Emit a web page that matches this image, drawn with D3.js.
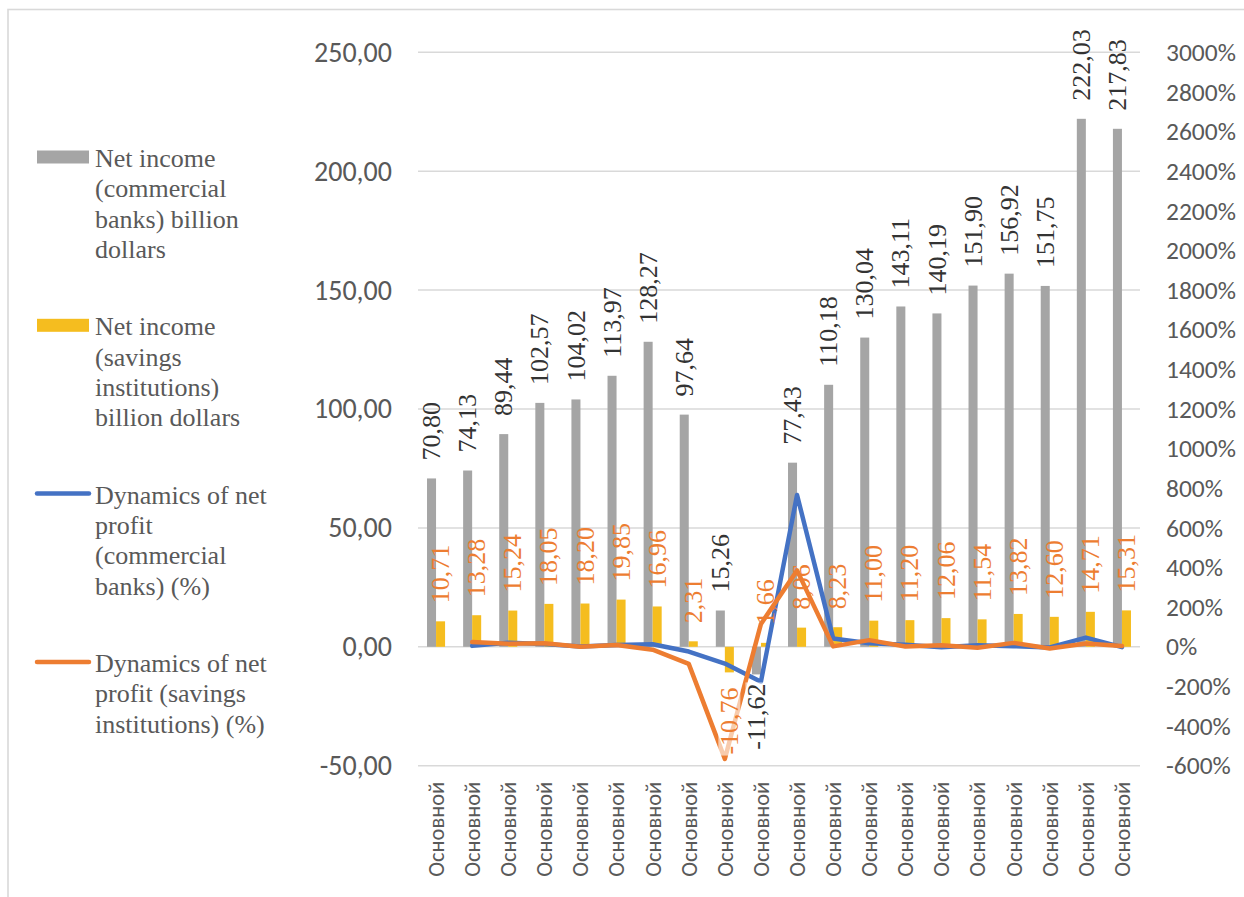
<!DOCTYPE html>
<html>
<head>
<meta charset="utf-8">
<script src="https://cdn.jsdelivr.net/npm/d3@7/dist/d3.min.js"></script>
<style>
  html, body { margin: 0; padding: 0; background: #fff; }
  svg { display: block; }
</style>
</head>
<body>
<svg id="chart" width="1244" height="897"></svg>
<script>
// ---------- DATA ----------
const categories = ["Основной","Основной","Основной","Основной","Основной","Основной","Основной","Основной","Основной","Основной",
                    "Основной","Основной","Основной","Основной","Основной","Основной","Основной","Основной","Основной","Основной"];
const commercialIncome = [70.80, 74.13, 89.44, 102.57, 104.02, 113.97, 128.27, 97.64, 15.26, -11.62,
                          77.43, 110.18, 130.04, 143.11, 140.19, 151.90, 156.92, 151.75, 222.03, 217.83];
const savingsIncome = [10.71, 13.28, 15.24, 18.05, 18.20, 19.85, 16.96, 2.31, -10.76, 1.66,
                       8.06, 8.23, 11.00, 11.20, 12.06, 11.54, 13.82, 12.60, 14.71, 15.31];
// dynamics of net profit, %
const commercialDynamics = [null, 4.7, 20.7, 14.7, 1.4, 9.6, 12.5, -23.9, -84.4, -176.1,
                            766.3, 42.3, 18.0, 10.1, -2.0, 8.4, 3.3, -3.3, 46.3, -1.9];
const savingsDynamics = [null, 24.0, 14.8, 18.4, 0.8, 9.1, -14.6, -86.4, -565.8, 115.4,
                         385.5, 2.1, 33.7, 1.8, 7.7, -4.3, 19.8, -8.8, 16.7, 4.1];
const leftTicks = [-50, 0, 50, 100, 150, 200, 250];
const rightTicks = [-600, -400, -200, 0, 200, 400, 600, 800, 1000, 1200, 1400, 1600, 1800, 2000, 2200, 2400, 2600, 2800, 3000];
const legendItems = [
  { type: "bar", color: "#a5a5a5", lines: ["Net income", "(commercial", "banks) billion", "dollars"] },
  { type: "bar", color: "#f5bd1f", lines: ["Net income", "(savings", "institutions)", "billion dollars"] },
  { type: "line", color: "#4472c4", lines: ["Dynamics of net", "profit", "(commercial", "banks) (%)"] },
  { type: "line", color: "#ed7d31", lines: ["Dynamics of net", "profit (savings", "institutions) (%)"] }
];

// ---------- STYLE ----------
const C = { gray: "#a5a5a5", yellow: "#f5bd1f", blue: "#4472c4", orange: "#ed7d31",
            grid: "#d9d9d9", axisText: "#595959", labelDark: "#333333", legendText: "#595959" };
const SERIF = "'Liberation Serif', 'Times New Roman', serif";
const SANS = "Carlito, 'Liberation Sans', Arial, sans-serif";

const svg = d3.select("#chart");

// outer frame
svg.append("rect").attr("x", 8).attr("y", 9.5).attr("width", 1300).attr("height", 1000)
  .attr("fill", "none").attr("stroke", "#d9d9d9").attr("stroke-width", 1.6);

const plot = { left: 418, right: 1140, top: 52.3, bottom: 765.7 };

const x = d3.scaleBand().domain(d3.range(categories.length)).range([plot.left, plot.right]).padding(0);
const yL = d3.scaleLinear().domain([-50, 250]).range([plot.bottom, plot.top]);
const yR = d3.scaleLinear().domain([-600, 3000]).range([plot.bottom, plot.top]);
const bw = x.bandwidth() * 0.25;
const cx = i => x(i) + x.bandwidth() / 2;
const minus = s => s.replace("\u2212", "-");

// gridlines
svg.append("g").selectAll("line").data(leftTicks).join("line")
  .attr("x1", plot.left).attr("x2", plot.right)
  .attr("y1", d => yL(d)).attr("y2", d => yL(d))
  .attr("stroke", C.grid).attr("stroke-width", 1.5);

// left axis
const fmtL = d => minus(d3.format(".2f")(d)).replace(".", ",");
const gL = svg.append("g").attr("transform", `translate(${plot.left - 26},0)`)
  .call(d3.axisLeft(yL).tickValues(leftTicks).tickFormat(fmtL).tickSize(0).tickPadding(0));
gL.select(".domain").remove();
gL.selectAll("text").attr("font-family", SANS).attr("font-size", 28).attr("fill", C.axisText);

// right axis
const gR = svg.append("g").attr("transform", `translate(${plot.right + 26},0)`)
  .call(d3.axisRight(yR).tickValues(rightTicks).tickFormat(d => minus(d3.format("d")(d)) + "%").tickSize(0).tickPadding(0));
gR.select(".domain").remove();
gR.selectAll("text").attr("font-family", SANS).attr("font-size", 25.5).attr("fill", C.axisText);

// x axis labels
const gX = svg.append("g").attr("transform", `translate(0,${plot.bottom + 16})`)
  .call(d3.axisBottom(x).tickFormat(i => categories[i]).tickSize(0).tickPadding(0));
gX.select(".domain").remove();
gX.selectAll("text")
  .attr("font-family", SANS).attr("font-size", 22.5).attr("fill", C.axisText)
  .attr("transform", "rotate(-90)")
  .attr("text-anchor", "end").attr("dy", "0.35em").attr("x", 0).attr("y", 0);

// bars
svg.append("g").selectAll("rect").data(commercialIncome).join("rect")
  .attr("x", (d, i) => cx(i) - bw).attr("width", bw)
  .attr("y", d => yL(Math.max(0, d))).attr("height", d => Math.abs(yL(d) - yL(0)))
  .attr("fill", C.gray);
svg.append("g").selectAll("rect").data(savingsIncome).join("rect")
  .attr("x", (d, i) => cx(i)).attr("width", bw)
  .attr("y", d => yL(Math.max(0, d))).attr("height", d => Math.abs(yL(d) - yL(0)))
  .attr("fill", C.yellow);

// lines
const lineGen = d3.line().defined(d => d.v !== null).x(d => cx(d.i)).y(d => yR(d.v));
[[commercialDynamics, C.blue], [savingsDynamics, C.orange]].forEach(([arr, col]) => {
  svg.append("path").datum(arr.map((v, i) => ({ v, i })))
    .attr("d", lineGen).attr("fill", "none").attr("stroke", col)
    .attr("stroke-width", 4.5).attr("stroke-linejoin", "round").attr("stroke-linecap", "round");
});

// data labels
const fmtV = d => minus(d3.format(".2f")(d)).replace(".", ",");
function addLabels(arr, xOff, color, negGap) {
  const g = svg.append("g");
  arr.forEach((d, i) => {
    const lx = cx(i) + xOff;
    const pos = d >= 0;
    const ly = pos ? yL(d) - 18 : yL(d) + negGap;
    const grp = g.append("g").attr("transform", `translate(${lx},${ly}) rotate(-90)`);
    const bg = grp.append("rect");
    const t = grp.append("text")
      .attr("font-family", SERIF).attr("font-size", 26).attr("fill", color)
      .attr("text-anchor", pos ? "start" : "end").attr("dy", "0.33em")
      .text(fmtV(d));
    if (!pos) {
      const bb = t.node().getBBox();
      bg.attr("x", bb.x - 1).attr("y", -11).attr("width", bb.width + 2).attr("height", 22)
        .attr("fill", "#fff").attr("opacity", 0.6);
    } else bg.remove();
  });
}
addLabels(commercialIncome, -bw / 2, C.labelDark, 9);
addLabels(savingsIncome, bw / 2, C.orange, 15);

// legend
const lg = svg.append("g");
legendItems.forEach((item, k) => {
  const cy = 157 + k * 168.3;
  if (item.type === "bar") {
    lg.append("rect").attr("x", 37).attr("y", cy - 6.5).attr("width", 52).attr("height", 13).attr("fill", item.color);
  } else {
    lg.append("line").attr("x1", 37).attr("x2", 89).attr("y1", cy).attr("y2", cy)
      .attr("stroke", item.color).attr("stroke-width", 4.5).attr("stroke-linecap", "round");
  }
  item.lines.forEach((ln, j) => {
    lg.append("text").attr("x", 95).attr("y", cy + 10 + j * 30.3)
      .attr("font-family", SERIF).attr("font-size", 26).attr("fill", C.legendText).text(ln);
  });
});
</script>
</body>
</html>
